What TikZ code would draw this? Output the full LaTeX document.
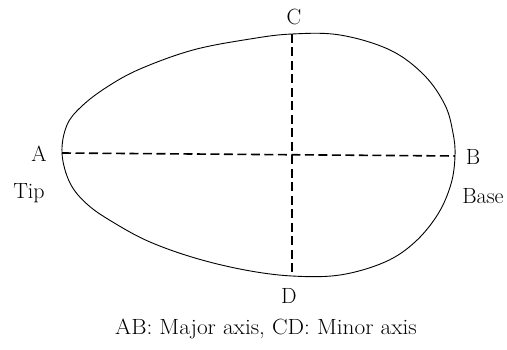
\documentclass[tikz,border=0pt]{standalone}
\begin{document}
\begin{tikzpicture}[x=1pt,y=-1pt,
  lbl/.style={font=\fontsize{22}{26}\selectfont, inner sep=0pt},
  axisline/.style={dashed, dash pattern=on 9pt off 4.5pt, line width=1.6pt},
  shell/.style={line width=0.9pt}]
\useasboundingbox (0,0) rectangle (507,350);
\coordinate (A) at (62,153);
\coordinate (B) at (455,156);
\coordinate (C) at (292,34);
\coordinate (D) at (292,276);
\draw[shell] plot[smooth cycle, tension=0.6] coordinates {
 (62,153) (67,125) (82,106) (107,87) (140,69) (193,50) (250,39) (292,34)
 (340,35) (390,50) (424,75) (445,105) (453,133) (455,156)
 (451,184) (438,214) (415,242) (385,262) (340,275) (292,276)
 (245,270) (195,258) (150,242) (116,224) (88,205) (70,183)};
\draw[axisline] (A) -- (B);
\draw[axisline] (C) -- (D);
\node[lbl] (la) at (39,154) {A};
\node[lbl] (lb) at (473,157) {B};
\node[lbl] (lc) at (294,17) {C};
\node[lbl] (ld) at (289,296) {D};
\node[lbl] (tip) at (29,193) {Tip};
\node[lbl] (base) at (483,196) {Base};
\node[lbl, xscale=1.06] (cap) at (266,329) {AB: Major axis, CD: Minor axis};
\end{tikzpicture}
\end{document}
